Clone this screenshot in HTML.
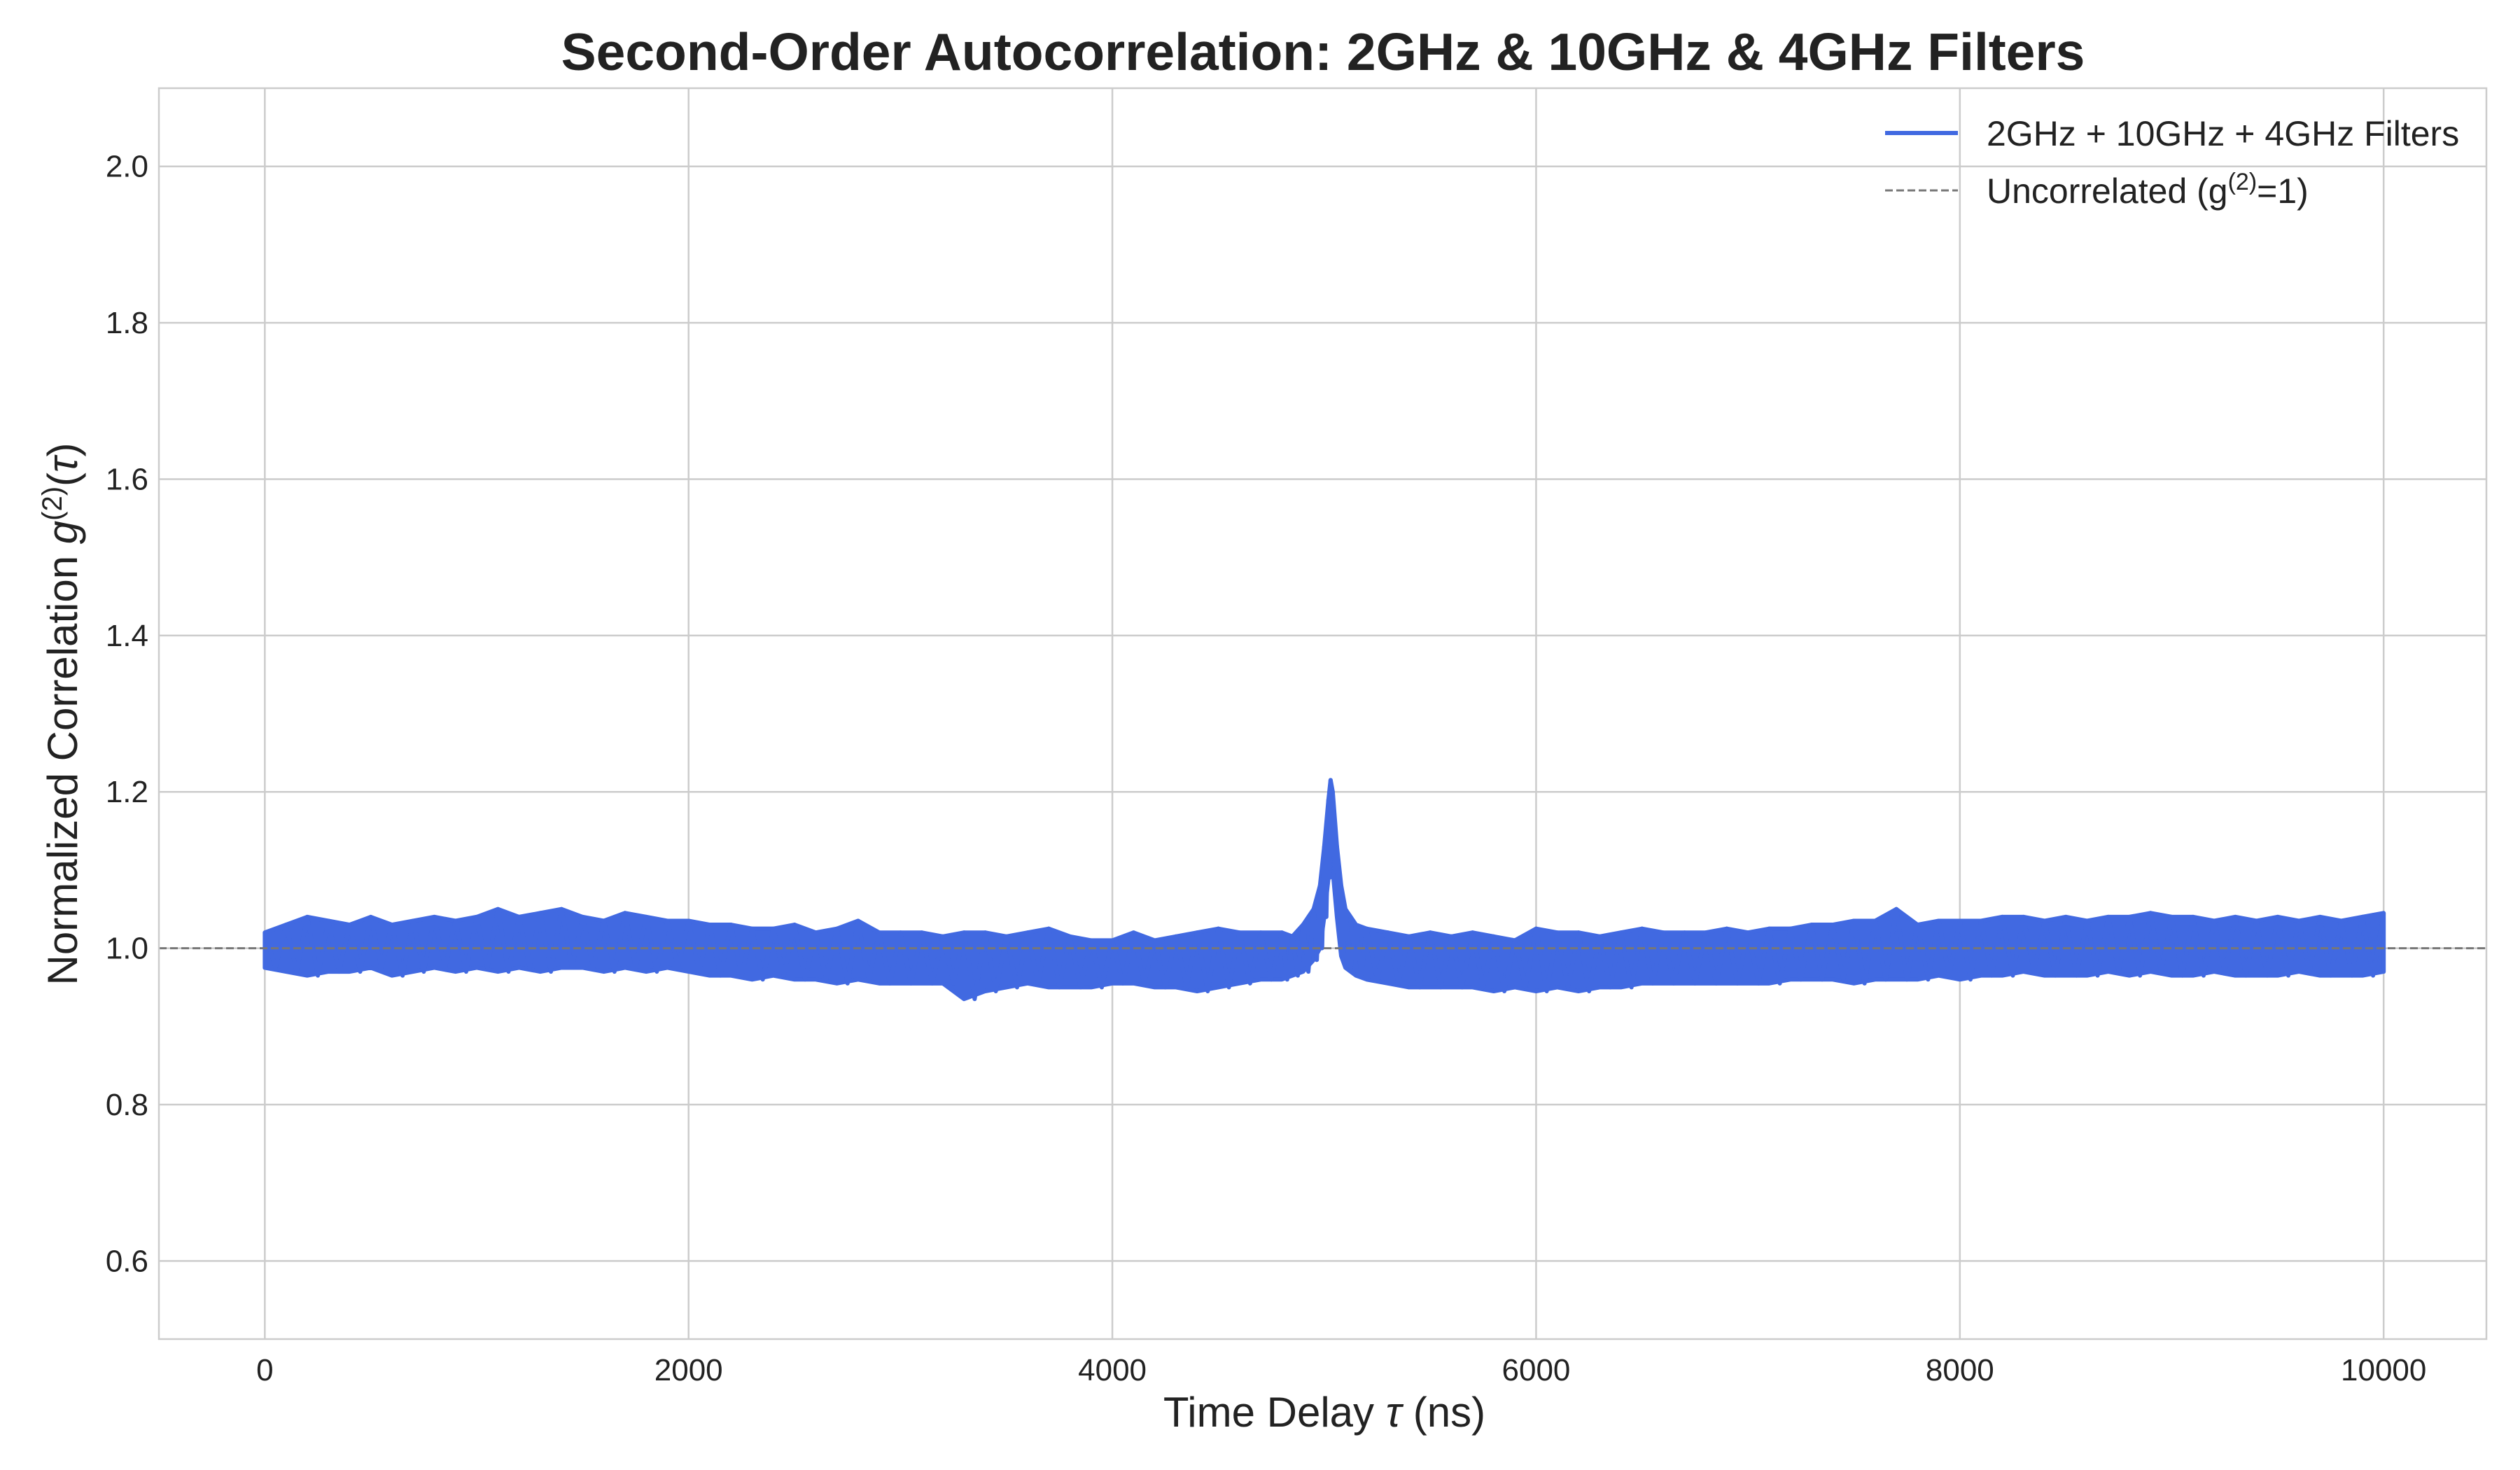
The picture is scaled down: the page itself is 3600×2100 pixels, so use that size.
<!DOCTYPE html>
<html><head><meta charset="utf-8"><style>
html,body{margin:0;padding:0;background:#fff;}
svg{display:block;font-family:"Liberation Sans",sans-serif;}
</style></head><body>
<svg id="chart" width="3600" height="2100" viewBox="0 0 3600 2100" xmlns="http://www.w3.org/2000/svg">
<rect width="3600" height="2100" fill="#fff"/>
<g id="grid"></g>
<g id="series"></g>
<g id="axes"></g>
<text x="1890" y="100" text-anchor="middle" font-size="75" font-weight="bold" fill="#222">Second-Order Autocorrelation: 2GHz &amp; 10GHz &amp; 4GHz Filters</text>
<text x="1892" y="2038" text-anchor="middle" font-size="60" fill="#222">Time Delay <tspan font-style="italic">τ</tspan> (ns)</text>
<text transform="translate(110,1020) rotate(-90)" text-anchor="middle" font-size="60" fill="#222">Normalized Correlation <tspan font-style="italic">g</tspan><tspan baseline-shift="super" font-size="40">(2)</tspan>(<tspan font-style="italic">τ</tspan>)</text>
<g>
<line x1="2693" y1="190" x2="2797" y2="190" stroke="#4169e1" stroke-width="6"/>
<text x="2838" y="208" font-size="50" fill="#222">2GHz + 10GHz + 4GHz Filters</text>
<line x1="2693" y1="272" x2="2797" y2="272" stroke="#777" stroke-width="3" stroke-dasharray="11,5"/>
<text x="2838" y="290" font-size="50" fill="#222">Uncorrelated (g<tspan baseline-shift="super" font-size="34">(2)</tspan>=1)</text>
</g>
</svg>
<script>
const tau=[0,100,200,300,400,500,600,700,800,900,1000,1100,1200,1300,1400,1500,1600,1700,1800,1900,2000,2100,2200,2300,2400,2500,2600,2700,2800,2900,3000,3100,3200,3300,3400,3500,3600,3700,3800,3900,4000,4100,4200,4300,4400,4500,4600,4700,4800,4850,4900,4950,4980,5000,5020,5030,5040,5060,5080,5100,5150,5200,5300,5400,5500,5600,5700,5800,5900,6000,6100,6200,6300,6400,6500,6600,6700,6800,6900,7000,7100,7200,7300,7400,7500,7600,7700,7800,7900,8000,8100,8200,8300,8400,8500,8600,8700,8800,8900,9000,9100,9200,9300,9400,9500,9600,9700,9800,9900,10000];
const upper=[1.02,1.03,1.04,1.035,1.03,1.04,1.03,1.035,1.04,1.035,1.04,1.05,1.04,1.045,1.05,1.04,1.035,1.045,1.04,1.035,1.035,1.03,1.03,1.025,1.025,1.03,1.02,1.025,1.035,1.02,1.02,1.02,1.015,1.02,1.02,1.015,1.02,1.025,1.015,1.01,1.01,1.02,1.01,1.015,1.02,1.025,1.02,1.02,1.02,1.015,1.03,1.05,1.08,1.13,1.19,1.215,1.2,1.13,1.08,1.05,1.03,1.025,1.02,1.015,1.02,1.015,1.02,1.015,1.01,1.025,1.02,1.02,1.015,1.02,1.025,1.02,1.02,1.02,1.025,1.02,1.025,1.025,1.03,1.03,1.035,1.035,1.05,1.03,1.035,1.035,1.035,1.04,1.04,1.035,1.04,1.035,1.04,1.04,1.045,1.04,1.04,1.035,1.04,1.035,1.04,1.035,1.04,1.035,1.04,1.045];
const lower=[0.975,0.97,0.965,0.97,0.97,0.975,0.965,0.97,0.975,0.97,0.975,0.97,0.975,0.97,0.975,0.975,0.97,0.975,0.97,0.975,0.97,0.965,0.965,0.96,0.965,0.96,0.96,0.955,0.96,0.955,0.955,0.955,0.955,0.935,0.945,0.95,0.955,0.95,0.95,0.95,0.955,0.955,0.95,0.95,0.945,0.95,0.955,0.96,0.96,0.965,0.97,0.985,1.0,1.04,1.09,1.12,1.1,1.04,0.99,0.975,0.965,0.96,0.955,0.95,0.95,0.95,0.95,0.945,0.95,0.945,0.95,0.945,0.95,0.95,0.955,0.955,0.955,0.955,0.955,0.955,0.955,0.96,0.96,0.96,0.955,0.96,0.96,0.96,0.965,0.96,0.965,0.965,0.97,0.965,0.965,0.965,0.97,0.965,0.97,0.965,0.965,0.97,0.965,0.965,0.965,0.97,0.965,0.965,0.965,0.97];
const xTicks=[0,2000,4000,6000,8000,10000];
const yTicks=[0.6,0.8,1.0,1.2,1.4,1.6,1.8,2.0];
const NS="http://www.w3.org/2000/svg";
const L=227,R=3552,T=126,B=1913,xmin=-500,xmax=10485,ymin=0.5,ymax=2.1;
const sx=v=>L+(v-xmin)/(xmax-xmin)*(R-L);
const sy=v=>B-(v-ymin)/(ymax-ymin)*(B-T);
function mk(tag,attrs,parent){const e=document.createElementNS(NS,tag);for(const k in attrs)e.setAttribute(k,attrs[k]);parent.appendChild(e);return e;}
const grid=document.getElementById('grid'),axes=document.getElementById('axes'),ser=document.getElementById('series');
xTicks.forEach(t=>{
 const g=mk('line',{x1:sx(t),x2:sx(t),y1:T,y2:B,stroke:'#cccccc','stroke-width':2.5},grid);
 
 
 const tx=mk('text',{x:sx(t),y:1972,'text-anchor':'middle','font-size':44,fill:'#222'},axes);
 tx.textContent=t;
 
 
});
yTicks.forEach(t=>{
 const g=mk('line',{x1:L,x2:R,y1:sy(t),y2:sy(t),stroke:'#cccccc','stroke-width':2.5},grid);
 
 
 const tx=mk('text',{x:212,y:sy(t)+15,'text-anchor':'end','font-size':44,fill:'#222'},axes);
 tx.textContent=t.toFixed(1);
 
 
});
const frame=mk('rect',{x:L,y:T,width:R-L,height:B-T,fill:'none',stroke:'#cccccc','stroke-width':2.5},axes);


let pts=[];
tau.forEach((t,i)=>pts.push(sx(t)+','+sy(upper[i])));
for(let i=tau.length-1;i>=0;i--)pts.push(sx(tau[i])+','+sy(lower[i]));
const band=mk('polygon',{points:pts.join(' '),fill:'#4169e1',stroke:'#4169e1','stroke-width':6,'stroke-linejoin':'round'},ser);


let z=[];
tau.forEach((t,i)=>{z.push(sx(t)+','+sy(upper[i]));if(i<tau.length-1){z.push((sx(t)+sx(tau[i+1]))/2+','+sy(lower[i]));}});
const zl=mk('polyline',{points:z.join(' '),fill:'none',stroke:'#4169e1','stroke-width':6,'stroke-linejoin':'round'},ser);


const base=mk('line',{x1:L,x2:R,y1:sy(1),y2:sy(1),stroke:'#777','stroke-width':3,'stroke-dasharray':'11,5'},ser);


</script>
</body></html>
